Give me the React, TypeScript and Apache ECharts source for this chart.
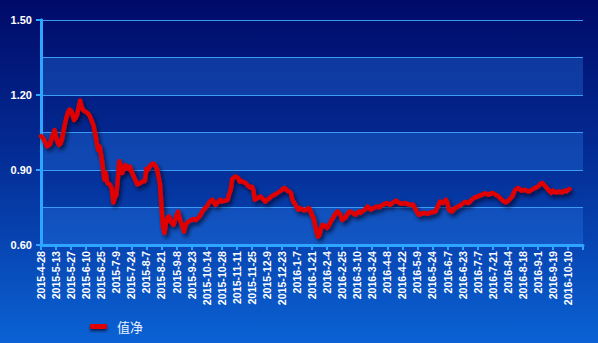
import React, { useEffect, useRef } from "react";
import * as echarts from "echarts";

const seriesName = "值净";

const tickLabels = [
  "2015-4-28", "2015-5-13", "2015-5-27", "2015-6-10", "2015-6-25", "2015-7-9",
  "2015-7-24", "2015-8-7", "2015-8-21", "2015-9-8", "2015-9-23", "2015-10-14",
  "2015-10-28", "2015-11-11", "2015-11-25", "2015-12-9", "2015-12-23", "2016-1-7",
  "2016-1-21", "2016-2-4", "2016-2-25", "2016-3-10", "2016-3-24", "2016-4-8",
  "2016-4-22", "2016-5-9", "2016-5-24", "2016-6-7", "2016-6-23", "2016-7-7",
  "2016-7-21", "2016-8-4", "2016-8-18", "2016-9-1", "2016-9-19", "2016-10-10",
];

const navValues = [
  1.035, 1.030, 1.022, 1.008, 0.995, 0.998, 1.003, 1.025, 1.042, 1.060,
  1.030, 1.012, 1.000, 1.006, 1.025, 1.058, 1.088, 1.112, 1.132, 1.142,
  1.138, 1.120, 1.100, 1.108, 1.122, 1.152, 1.178, 1.153, 1.140, 1.135,
  1.132, 1.127, 1.120, 1.108, 1.092, 1.075, 1.045, 1.010, 0.980, 0.994,
  0.955, 0.915, 0.862, 0.888, 0.848, 0.845, 0.840, 0.825, 0.770, 0.790,
  0.800, 0.862, 0.935, 0.912, 0.888, 0.905, 0.920, 0.910, 0.905, 0.914,
  0.896, 0.882, 0.868, 0.856, 0.842, 0.846, 0.848, 0.852, 0.855, 0.856,
  0.905, 0.902, 0.912, 0.921, 0.924, 0.925, 0.916, 0.905, 0.876, 0.845,
  0.754, 0.674, 0.648, 0.690, 0.708, 0.714, 0.694, 0.688, 0.681, 0.700,
  0.718, 0.734, 0.708, 0.690, 0.674, 0.654, 0.681, 0.688, 0.694, 0.698,
  0.700, 0.704, 0.702, 0.700, 0.706, 0.712, 0.721, 0.732, 0.741, 0.748,
  0.754, 0.762, 0.774, 0.778, 0.781, 0.768, 0.761, 0.768, 0.775, 0.781,
  0.774, 0.776, 0.777, 0.779, 0.781, 0.805, 0.821, 0.864, 0.870, 0.874,
  0.871, 0.868, 0.854, 0.856, 0.854, 0.850, 0.848, 0.840, 0.834, 0.830,
  0.834, 0.821, 0.781, 0.785, 0.788, 0.791, 0.794, 0.786, 0.781, 0.774,
  0.779, 0.784, 0.789, 0.794, 0.798, 0.801, 0.804, 0.808, 0.812, 0.816,
  0.821, 0.826, 0.828, 0.821, 0.816, 0.814, 0.808, 0.781, 0.770, 0.761,
  0.750, 0.741, 0.748, 0.744, 0.741, 0.739, 0.741, 0.744, 0.748, 0.734,
  0.720, 0.708, 0.681, 0.654, 0.634, 0.641, 0.668, 0.681, 0.678, 0.674,
  0.668, 0.678, 0.688, 0.700, 0.708, 0.721, 0.728, 0.734, 0.727, 0.721,
  0.700, 0.704, 0.708, 0.718, 0.728, 0.734, 0.731, 0.728, 0.724, 0.721,
  0.730, 0.734, 0.728, 0.733, 0.737, 0.741, 0.748, 0.754, 0.748, 0.741,
  0.745, 0.748, 0.751, 0.754, 0.752, 0.752, 0.757, 0.761, 0.764, 0.766,
  0.768, 0.764, 0.761, 0.766, 0.771, 0.775, 0.778, 0.772, 0.768, 0.766,
  0.765, 0.767, 0.768, 0.765, 0.763, 0.761, 0.761, 0.762, 0.752, 0.741,
  0.730, 0.721, 0.724, 0.726, 0.728, 0.728, 0.726, 0.725, 0.728, 0.731,
  0.731, 0.733, 0.734, 0.748, 0.761, 0.774, 0.771, 0.768, 0.775, 0.781,
  0.768, 0.741, 0.736, 0.734, 0.741, 0.748, 0.751, 0.754, 0.758, 0.761,
  0.765, 0.770, 0.772, 0.770, 0.768, 0.774, 0.781, 0.786, 0.790, 0.792,
  0.794, 0.797, 0.799, 0.801, 0.804, 0.808, 0.804, 0.801, 0.804, 0.806,
  0.808, 0.805, 0.801, 0.798, 0.794, 0.788, 0.781, 0.776, 0.773, 0.771,
  0.776, 0.781, 0.788, 0.794, 0.808, 0.821, 0.825, 0.828, 0.823, 0.818,
  0.818, 0.821, 0.819, 0.816, 0.814, 0.817, 0.821, 0.825, 0.828, 0.830,
  0.834, 0.840, 0.846, 0.848, 0.841, 0.835, 0.828, 0.820, 0.814, 0.808,
  0.818, 0.814, 0.810, 0.812, 0.814, 0.812, 0.810, 0.815, 0.818, 0.814,
  0.820, 0.824,
];

const CATEGORY_COUNT = 361;
const TICK_STEP = 10;
const categories = Array.from({ length: CATEGORY_COUNT }, (_, i) =>
  i % TICK_STEP === 0 ? tickLabels[i / TICK_STEP] ?? "" : ""
);

const axisBlue = "#2ea6ff";
const gridBlue = "#3b9cf5";
const font = "'Liberation Sans', Arial, sans-serif";

export default function App() {
  const ref = useRef<HTMLDivElement>(null);
  useEffect(() => {
    if (!ref.current) return;
    const chart = echarts.init(ref.current, null, { renderer: "svg" });
    chart.setOption({
      animation: false,
      backgroundColor: new echarts.graphic.LinearGradient(0, 0, 0, 1, [
        { offset: 0, color: "#000a68" },
        { offset: 0.5, color: "#04309a" },
        { offset: 1, color: "#0b62d4" },
      ]),
      grid: { left: 41, right: 15, top: 20, bottom: 98, containLabel: false },
      legend: {
        left: 85,
        top: 315,
        itemWidth: 17,
        itemHeight: 5,
        data: [{ name: seriesName, icon: "roundRect" }],
        itemStyle: {
          color: "#e00000",
          shadowColor: "rgba(0,0,30,0.7)",
          shadowBlur: 3,
          shadowOffsetY: 2,
        },
        textStyle: {
          color: "#e8f2ff",
          fontSize: 13,
          fontFamily: "'Noto Sans CJK SC', sans-serif",
          padding: [0, 0, 0, 5],
        },
      },
      xAxis: {
        type: "category",
        data: categories,
        boundaryGap: false,
        axisLine: { show: true, lineStyle: { color: axisBlue, width: 3 } },
        axisTick: {
          show: true,
          interval: TICK_STEP - 1,
          length: 5,
          lineStyle: { color: axisBlue, width: 2 },
        },
        axisLabel: {
          interval: TICK_STEP - 1,
          rotate: 90,
          margin: 6,
          color: "#ffffff",
          fontSize: 10.6,
          fontWeight: "bold",
          fontFamily: font,
        },
        splitLine: { show: false },
      },
      yAxis: [
        {
          type: "value",
          min: 0.6,
          max: 1.5,
          interval: 0.15,
          position: "left",
          axisLine: { show: true, lineStyle: { color: axisBlue, width: 3 } },
          axisTick: { show: false },
          axisLabel: {
            margin: 9,
            color: "#ffffff",
            fontSize: 11,
            fontWeight: "bold",
            fontFamily: font,
            formatter: (v: number) =>
              Math.round(v * 100) % 30 === 0 ? v.toFixed(2) : "",
          },
          splitLine: { show: true, lineStyle: { color: gridBlue, width: 1 } },
          splitArea: {
            show: true,
            areaStyle: { color: ["rgba(40,120,230,0.35)", "rgba(0,0,0,0)"] },
          },
        },
        {
          type: "value",
          min: 0.6,
          max: 1.5,
          interval: 0.3,
          position: "left",
          axisLine: { show: true, lineStyle: { color: axisBlue, width: 3 } },
          axisTick: {
            show: true,
            inside: false,
            length: 5,
            lineStyle: { color: axisBlue, width: 2 },
          },
          axisLabel: { show: false },
          splitLine: { show: false },
          splitArea: { show: false },
        },
      ],
      series: [
        {
          name: seriesName,
          type: "line",
          data: navValues,
          yAxisIndex: 0,
          showSymbol: false,
          symbol: "none",
          itemStyle: { color: "#e00000" },
          lineStyle: {
            color: "#e00000",
            width: 4.5,
            join: "round",
            cap: "round",
            shadowColor: "rgba(0,0,30,0.7)",
            shadowBlur: 4,
            shadowOffsetX: 2,
            shadowOffsetY: 3,
          },
        },
      ],
    });
    return () => chart.dispose();
  }, []);
  return (
    <div
      ref={ref}
      style={{ position: "fixed", left: 0, top: 0, width: 598, height: 343 }}
    />
  );
}
